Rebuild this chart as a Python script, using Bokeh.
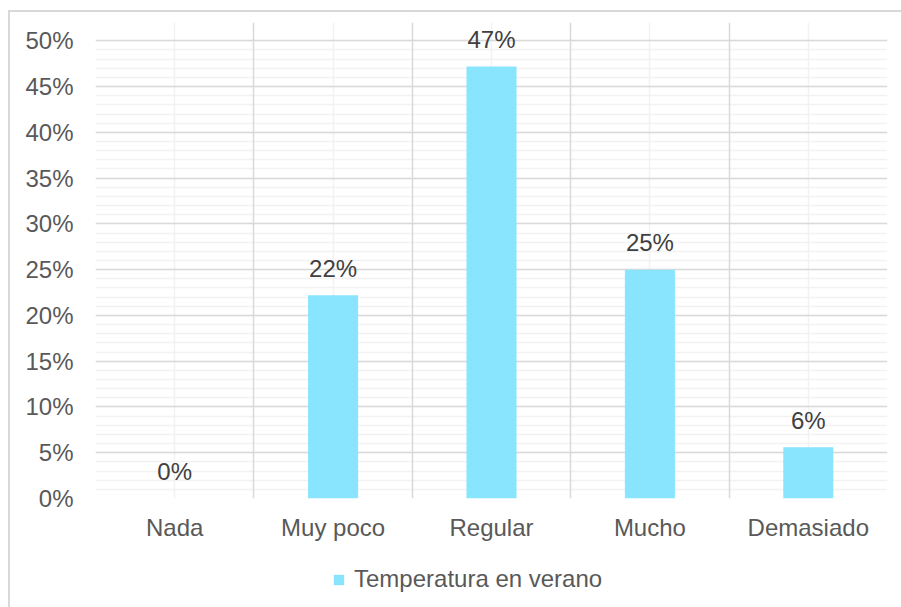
import numpy as np
from bokeh.plotting import figure
from bokeh.layouts import column
from bokeh.models import (ColumnDataSource, FixedTicker, Grid, NumeralTickFormatter,
                          Legend, LegendItem, Range1d)
from bokeh.core.properties import value
from bokeh.embed import file_html
from bokeh.resources import INLINE

categories = ["Nada", "Muy poco", "Regular", "Mucho", "Demasiado"]
values = [0.0, 0.222, 0.472, 0.25, 0.056]
series_name = "Temperatura en verano"
y_ticks = [0.0, 0.05, 0.10, 0.15, 0.20, 0.25, 0.30, 0.35, 0.40, 0.45, 0.50]

FONT = "Liberation Sans"
BAR_COLOR = "#89E5FD"
TEXT = "#595959"
MAJOR = "#D9D9D9"
MINOR = "#F2F2F2"

xpos = np.arange(len(categories)) + 0.5
labels = [f"{round(v * 100):.0f}%" for v in values]
src = ColumnDataSource(dict(x=xpos, top=values, label=labels))

# y range runs a little past 50% so the tallest value label has room;
# grid lines stop at 50%
p = figure(width=891, height=540, output_backend="svg", toolbar_location=None,
           x_range=Range1d(0, len(categories)), y_range=Range1d(0, 0.52),
           min_border_left=85, min_border_right=14, min_border_top=10,
           min_border_bottom=54)
p.outline_line_color = None
p.background_fill_color = "white"
p.border_fill_color = "white"
p.grid.visible = False

y_bounds = (0, 0.5)
# light grid: every 1% and through the middle of each category
p.add_layout(Grid(dimension=1, ticker=FixedTicker(ticks=[i / 100 for i in range(51)]),
                  grid_line_color=MINOR, grid_line_width=1.5))
p.add_layout(Grid(dimension=0, ticker=FixedTicker(ticks=list(xpos)), bounds=y_bounds,
                  grid_line_color=MINOR, grid_line_width=1.5))
# main grid: every 5% and on category boundaries
p.add_layout(Grid(dimension=1, ticker=FixedTicker(ticks=y_ticks),
                  grid_line_color=MAJOR, grid_line_width=1.5))
p.add_layout(Grid(dimension=0, ticker=FixedTicker(ticks=list(range(len(categories) + 1))),
                  bounds=y_bounds, grid_line_color=MAJOR, grid_line_width=1.5))

bars = p.vbar(x="x", top="top", width=0.316, bottom=0, source=src,
              fill_color=BAR_COLOR, line_color=None)

p.text(x="x", y="top", text="label", source=src, text_align="center",
       text_baseline="alphabetic", y_offset=-27, text_font=value(FONT),
       text_font_size="24px", text_color="#404040")

p.yaxis.ticker = FixedTicker(ticks=y_ticks)
p.yaxis.formatter = NumeralTickFormatter(format="0%")
p.xaxis.ticker = FixedTicker(ticks=list(xpos))
p.xaxis.major_label_overrides = {float(x): c for x, c in zip(xpos, categories)}
for ax in (p.xaxis[0], p.yaxis[0]):
    ax.axis_line_color = None
    ax.major_tick_line_color = None
    ax.minor_tick_line_color = None
    ax.major_label_text_font = FONT
    ax.major_label_text_font_size = "24px"
    ax.major_label_text_color = TEXT
p.yaxis.major_label_standoff = 16
p.xaxis.major_label_standoff = 9

# legend strip under the chart; its frame lines up with the chart's frame,
# and its ranges sit away from the data so only the legend shows
leg = figure(width=891, height=55, output_backend="svg", toolbar_location=None,
             x_range=Range1d(20, 21), y_range=Range1d(5, 6),
             min_border=0, outline_line_color=None,
             background_fill_color=None, border_fill_color=None)
leg.axis.visible = False
leg.grid.visible = False
swatch = leg.vbar(x="x", top="top", width=0.316, source=src,
                  fill_color=BAR_COLOR, line_color=None)
legend = Legend(items=[LegendItem(label=series_name, renderers=[swatch])],
                location=(237, 14), orientation="horizontal",
                glyph_width=13, glyph_height=13, label_standoff=9,
                padding=0, margin=0, spacing=0, border_line_color=None,
                background_fill_alpha=0, label_text_font=FONT,
                label_text_font_size="24px", label_text_color=TEXT)
leg.add_layout(legend, "center")

layout = column(p, leg, spacing=0)
layout.styles = {"margin-left": "8px", "margin-top": "10px",
                 "border-left": f"2px solid {MAJOR}", "border-top": f"2px solid {MAJOR}"}

open("out.html", "w").write(file_html(layout, INLINE))
